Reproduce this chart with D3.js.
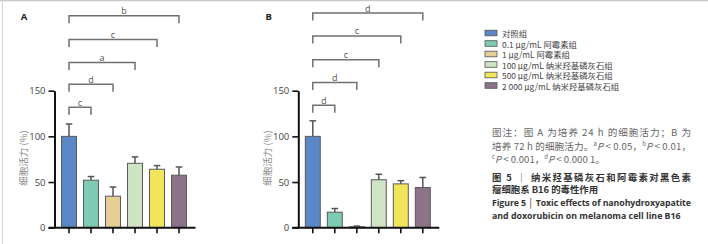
<!DOCTYPE html>
<html>
<head>
<meta charset="utf-8">
<script src="https://cdn.jsdelivr.net/npm/d3@7"></script>
<style>
  html, body { margin: 0; padding: 0; background: #fff; }
  svg { display: block; }
  text { font-family: "Noto Sans CJK SC", "Noto Sans", sans-serif; }
</style>
</head>
<body>
<svg id="chart" width="708" height="244"></svg>
<script>
// --- data ---
const groups = ['对照组', '0.1 μg/mL 阿霉素组', '1 μg/mL 阿霉素组',
  '100 μg/mL 纳米羟基磷灰石组', '500 μg/mL 纳米羟基磷灰石组', '2 000 μg/mL 纳米羟基磷灰石组'];
const colors = ['#5b87c6', '#7dcbb4', '#e5cf96', '#cfe3c5', '#f1e55b', '#8d7389'];

const meanA = [100, 52, 34.5, 70.5, 64, 57.5];
const errA = [13.5, 4, 10, 7, 4, 9];
const meanB = [100, 17, 1, 52.5, 48, 44];
const errB = [17, 4, 0.8, 6, 3.5, 11];

// significance brackets: control vs group i+1
const sigA = ['c', 'd', 'a', 'c', 'b'];
const levelA = [132, 157, 181, 206, 232];
const sigB = ['d', 'd', 'c', 'c', 'd'];
const levelB = [134, 159, 184, 210, 235];

const yTicks = [0, 50, 100, 150];

const svg = d3.select('#chart');

// page frame lines
svg.append('line').attr('x1', 0).attr('x2', 708).attr('y1', 0.5).attr('y2', 0.5)
  .attr('stroke', '#c8c8c8').attr('stroke-width', 1.5);
svg.append('line').attr('x1', 2.5).attr('x2', 2.5).attr('y1', 0).attr('y2', 244)
  .attr('stroke', '#d4d4d4').attr('stroke-width', 1);

function drawPanel(opts) {
  const ax = opts.axisX;
  const y = d3.scaleLinear().domain([0, 150]).range([227.7, 90.7]);
  const x = d3.scaleBand().domain(groups).range([ax + 3.5, ax + 135.5])
    .paddingInner(0.32).paddingOuter(0.16);
  const g = svg.append('g');

  // y axis
  const yAxis = g.append('g').attr('transform', 'translate(' + ax + ',0)')
    .call(d3.axisLeft(y).tickValues(yTicks).tickSize(6).tickSizeOuter(0).tickPadding(3));
  yAxis.select('.domain').attr('stroke', '#111').attr('stroke-width', 2);
  yAxis.selectAll('.tick line').attr('stroke', '#111').attr('stroke-width', 1.6);
  yAxis.selectAll('.tick text')
    .attr('fill', '#444')
    .style('font-family', '"Open Sans", "Liberation Sans", sans-serif')
    .style('font-size', '9.5px');

  // y label
  g.append('text')
    .attr('transform', 'translate(' + (ax - 31.8) + ',158) rotate(-90)')
    .attr('text-anchor', 'middle').attr('dominant-baseline', 'central')
    .attr('fill', '#8a8a8a').style('font-size', '9.5px')
    .text('细胞活力 (%)');

  // panel letter
  g.append('text').attr('x', opts.letterX).attr('y', 16)
    .attr('text-anchor', 'middle').attr('dominant-baseline', 'central')
    .attr('fill', '#222').style('font-weight', 'bold').style('font-size', '9.5px')
    .style('font-family', '"Open Sans", sans-serif')
    .text(opts.letter);

  // bars
  g.selectAll('rect.bar').data(groups).join('rect')
    .attr('class', 'bar')
    .attr('x', function (d) { return x(d); })
    .attr('width', x.bandwidth())
    .attr('y', function (d, i) { return y(opts.mean[i]); })
    .attr('height', function (d, i) { return y(0) - y(opts.mean[i]); })
    .attr('fill', function (d, i) { return colors[i]; })
    .attr('stroke', '#5a5a5a').attr('stroke-width', 1);

  // error bars (upper only)
  const eb = g.selectAll('g.err').data(groups).join('g').attr('class', 'err');
  eb.append('line')
    .attr('x1', function (d) { return x(d) + x.bandwidth() / 2; })
    .attr('x2', function (d) { return x(d) + x.bandwidth() / 2; })
    .attr('y1', function (d, i) { return y(opts.mean[i]); })
    .attr('y2', function (d, i) { return y(opts.mean[i] + opts.err[i]); })
    .attr('stroke', '#555').attr('stroke-width', 1.5);
  eb.append('line')
    .attr('x1', function (d) { return x(d) + x.bandwidth() / 2 - 3.3; })
    .attr('x2', function (d) { return x(d) + x.bandwidth() / 2 + 3.3; })
    .attr('y1', function (d, i) { return y(opts.mean[i] + opts.err[i]); })
    .attr('y2', function (d, i) { return y(opts.mean[i] + opts.err[i]); })
    .attr('stroke', '#555').attr('stroke-width', 1.5);

  // x axis line and ticks
  g.append('line').attr('x1', ax - 6).attr('x2', ax + 141)
    .attr('y1', y(0)).attr('y2', y(0)).attr('stroke', '#111').attr('stroke-width', 2);
  g.selectAll('line.xt').data(groups).join('line').attr('class', 'xt')
    .attr('x1', function (d) { return x(d) + x.bandwidth() / 2; })
    .attr('x2', function (d) { return x(d) + x.bandwidth() / 2; })
    .attr('y1', y(0)).attr('y2', y(0) + 5.5)
    .attr('stroke', '#111').attr('stroke-width', 1.6);

  // significance brackets
  const x0 = x(groups[0]) + x.bandwidth() / 2;
  const br = g.selectAll('g.br').data(opts.sig).join('g').attr('class', 'br');
  br.append('path')
    .attr('d', function (d, i) {
      const x1 = x(groups[i + 1]) + x.bandwidth() / 2;
      const yy = y(opts.level[i]);
      return 'M' + x0 + ',' + (yy + 7.5) + 'V' + yy + 'H' + x1 + 'V' + (yy + 7.5);
    })
    .attr('fill', 'none').attr('stroke', '#707070').attr('stroke-width', 1.5);
  br.append('text')
    .attr('x', function (d, i) { return (x0 + x(groups[i + 1]) + x.bandwidth() / 2) / 2; })
    .attr('y', function (d, i) { return y(opts.level[i]) - 5; })
    .attr('text-anchor', 'middle').attr('dominant-baseline', 'central')
    .attr('fill', '#555').style('font-size', '9px')
    .style('font-family', '"Open Sans", sans-serif')
    .text(function (d) { return d; });
}

drawPanel({ axisX: 54.5, letter: 'A', letterX: 24, mean: meanA, err: errA, sig: sigA, level: levelA });
drawPanel({ axisX: 298.3, letter: 'B', letterX: 268.7, mean: meanB, err: errB, sig: sigB, level: levelB });

// legend
const legend = svg.append('g');
const lg = legend.selectAll('g').data(groups).join('g')
  .attr('transform', function (d, i) { return 'translate(485,' + (33 + i * 10.5) + ')'; });
lg.append('rect').attr('x', 0).attr('y', -2.8).attr('width', 12).attr('height', 5.6)
  .attr('fill', function (d, i) { return colors[i]; })
  .attr('stroke', '#555').attr('stroke-width', 0.8);
lg.append('text').attr('x', 17).attr('y', 0).attr('dominant-baseline', 'central')
  .attr('fill', '#444').style('font-size', '8.4px')
  .text(function (d) { return d; });

// caption notes
const note = svg.append('g').attr('fill', '#666').style('font-size', '9.6px');
note.append('text').attr('x', 492).attr('y', 132).attr('dominant-baseline', 'central')
  .attr('textLength', 199).attr('lengthAdjust', 'spacing')
  .text('图注：图 A 为培养 24 h 的细胞活力；B 为');
const n2 = note.append('text').attr('x', 492).attr('y', 145.5).attr('dominant-baseline', 'central')
  .attr('textLength', 199).attr('lengthAdjust', 'spacing');
n2.append('tspan').text('培养 72 h 的细胞活力。');
n2.append('tspan').attr('dy', -3).style('font-size', '6px').text('a');
n2.append('tspan').attr('dy', 3).style('font-style', 'italic').text('P');
n2.append('tspan').text(' < 0.05，');
n2.append('tspan').attr('dy', -3).style('font-size', '6px').text('b');
n2.append('tspan').attr('dy', 3).style('font-style', 'italic').text('P');
n2.append('tspan').text(' < 0.01，');
const n3 = note.append('text').attr('x', 492).attr('y', 158.7).attr('dominant-baseline', 'central');
n3.append('tspan').attr('dy', -3).style('font-size', '6px').text('c');
n3.append('tspan').attr('dy', 3).style('font-style', 'italic').text('P');
n3.append('tspan').text(' < 0.001，');
n3.append('tspan').attr('dy', -3).style('font-size', '6px').text('d');
n3.append('tspan').attr('dy', 3).style('font-style', 'italic').text('P');
n3.append('tspan').text(' < 0.000 1。');

// figure title
const title = svg.append('g').attr('fill', '#333').style('font-weight', 'bold').style('font-size', '9.4px');
title.append('text').attr('x', 492).attr('y', 176.7).attr('dominant-baseline', 'central')
  .attr('textLength', 199).attr('lengthAdjust', 'spacing')
  .text('图 5 │ 纳米羟基磷灰石和阿霉素对黑色素');
title.append('text').attr('x', 492).attr('y', 189.3).attr('dominant-baseline', 'central')
  .text('瘤细胞系 B16 的毒性作用');
title.append('text').attr('x', 492).attr('y', 202.7).attr('dominant-baseline', 'central')
  .attr('textLength', 199).attr('lengthAdjust', 'spacing')
  .style('font-family', '"Open Sans", sans-serif').style('font-size', '8.8px')
  .text('Figure 5 │ Toxic effects of nanohydroxyapatite');
title.append('text').attr('x', 492).attr('y', 215.5).attr('dominant-baseline', 'central')
  .style('font-family', '"Open Sans", sans-serif').style('font-size', '8.8px')
  .text('and doxorubicin on melanoma cell line B16');
</script>
</body>
</html>
